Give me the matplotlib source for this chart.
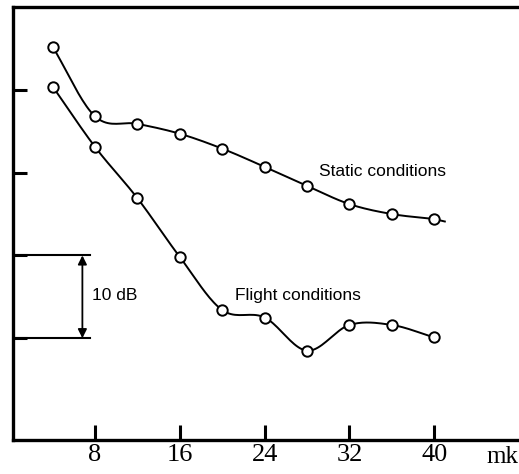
import numpy as np
import matplotlib.pyplot as plt

# jet velocity (x) and relative noise level in dB (y)
x = [4, 8, 12, 16, 20, 24, 28, 32, 36, 40]
static_db = [45.2, 36.8, 35.9, 34.7, 32.9, 30.7, 28.4, 26.2, 25.0, 24.4]
flight_db = [40.4, 33.1, 26.9, 19.8, 13.4, 12.5, 8.5, 11.6, 11.6, 10.1]
x_ticks = [8, 16, 24, 32, 40]
y_ticks = [10, 20, 30, 40]


def smooth(xs, ys, n=20):
    # Catmull-Rom curve through the points, just for drawing a smooth line
    xs = np.asarray(xs, float)
    ys = np.asarray(ys, float)
    px = np.concatenate([[2 * xs[0] - xs[1]], xs, [2 * xs[-1] - xs[-2]]])
    py = np.concatenate([[2 * ys[0] - ys[1]], ys, [2 * ys[-1] - ys[-2]]])
    out_x, out_y = [], []
    t = np.linspace(0, 1, n, endpoint=False)
    for i in range(1, len(px) - 2):
        for p, out in ((px, out_x), (py, out_y)):
            p0, p1, p2, p3 = p[i - 1], p[i], p[i + 1], p[i + 2]
            out.extend(0.5 * (2 * p1 + (-p0 + p2) * t
                              + (2 * p0 - 5 * p1 + 4 * p2 - p3) * t ** 2
                              + (-p0 + 3 * p1 - 3 * p2 + p3) * t ** 3))
    out_x.append(xs[-1])
    out_y.append(ys[-1])
    return np.array(out_x), np.array(out_y)


fig = plt.figure(figsize=(5.19, 4.74), dpi=100)
ax = fig.add_axes([0.025, 0.0717, 0.975, 0.9133])

sx, sy = smooth(x, static_db)
fx, fy = smooth(x, flight_db)
ax.plot(np.append(sx, 41.0), np.append(sy, static_db[-1] - 0.3), color='black', lw=1.4)
ax.plot(fx, fy, color='black', lw=1.4)
ax.plot(x, static_db, 'o', mfc='white', mec='black', ms=7.5, mew=1.4)
ax.plot(x, flight_db, 'o', mfc='white', mec='black', ms=7.5, mew=1.4)

ax.text(29.1, 30.1, 'Static conditions', fontsize=12.5, family='Liberation Sans', va='center')
ax.text(21.2, 15.2, 'Flight conditions', fontsize=12.5, family='Liberation Sans', va='center')

# 10 dB scale marker
ax.plot([0.25, 7.55], [20, 20], color='black', lw=1.5)
ax.plot([0.25, 7.55], [10, 10], color='black', lw=1.5)
ax.annotate('', xy=(6.8, 20), xytext=(6.8, 10),
            arrowprops=dict(arrowstyle='<|-|>', color='black', lw=1.3,
                            mutation_scale=13, shrinkA=0, shrinkB=0))
ax.text(7.7, 15.1, '10 dB', fontsize=12.5, family='Liberation Sans', va='center')

ax.set_xlim(0.25, 48)
ax.set_ylim(-2.3, 50)
ax.set_xticks(x_ticks)
ax.set_xticklabels([str(v) for v in x_ticks], family='Liberation Serif', fontsize=19)
ax.set_yticks(y_ticks)
ax.set_yticklabels([])
ax.tick_params(axis='x', direction='in', length=11, width=2.2, pad=3)
ax.tick_params(axis='y', direction='in', length=10, width=2.2)
ax.spines['right'].set_visible(False)
for s in ['left', 'bottom', 'top']:
    ax.spines[s].set_linewidth(2.4)

ax.text(44.9, -4.4, 'mk', fontsize=18, family='Liberation Serif', va='center', clip_on=False)

fig.savefig('out.png', dpi=100)
